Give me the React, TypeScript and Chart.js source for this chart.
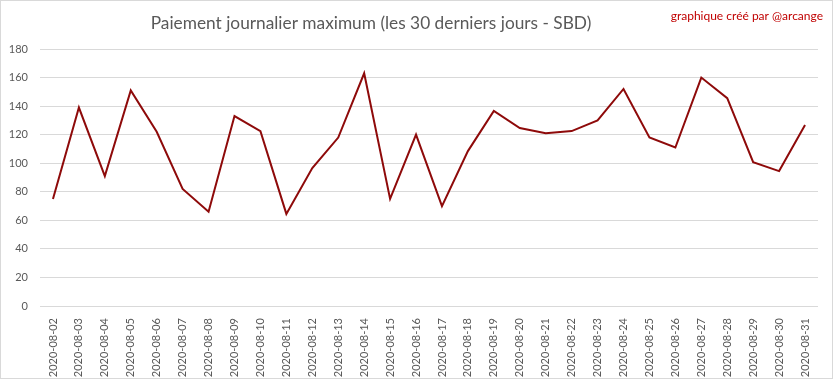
import React, { useEffect, useRef } from "react";
import { Chart, registerables } from "chart.js";

Chart.register(...registerables);

const categories = [
  "2020-08-02","2020-08-03","2020-08-04","2020-08-05","2020-08-06","2020-08-07","2020-08-08","2020-08-09","2020-08-10","2020-08-11",
  "2020-08-12","2020-08-13","2020-08-14","2020-08-15","2020-08-16","2020-08-17","2020-08-18","2020-08-19","2020-08-20","2020-08-21",
  "2020-08-22","2020-08-23","2020-08-24","2020-08-25","2020-08-26","2020-08-27","2020-08-28","2020-08-29","2020-08-30","2020-08-31",
];
const maxPayout = [
  75, 139, 91, 151, 122, 82, 66, 133, 122.5, 64.5,
  96.6, 118, 163, 75, 120, 70, 108.5, 136.6, 124.6, 121,
  122.5, 130, 152, 118, 111, 160, 145.6, 100.8, 94.5, 126.7,
];
const yTicks = [0, 20, 40, 60, 80, 100, 120, 140, 160, 180];
const titleText = "Paiement journalier maximum (les 30 derniers jours - SBD)";
const creditText = "graphique créé par @arcange";

const textPlugin = {
  id: "texts",
  afterDraw(chart: any) {
    const ctx = chart.ctx;
    ctx.save();
    ctx.fillStyle = "#595959";
    ctx.font = "17.3px Lato, 'Open Sans', sans-serif";
    ctx.textAlign = "center";
    ctx.textBaseline = "middle";
    ctx.fillText(titleText, 371, 23);
    ctx.fillStyle = "#c00000";
    ctx.font = "12px Lato, 'Open Sans', sans-serif";
    ctx.textAlign = "right";
    ctx.fillText(creditText, 823, 16);
    ctx.restore();
  },
};

export default function App() {
  const ref = useRef<HTMLCanvasElement>(null);
  useEffect(() => {
    document.body.style.margin = "0";
    const chart = new Chart(ref.current!, {
      type: "line",
      data: {
        labels: categories,
        datasets: [
          {
            data: maxPayout,
            borderColor: "#8e0a0a",
            borderWidth: 2,
            pointRadius: 0,
            tension: 0,
            fill: false,
          },
        ],
      },
      plugins: [textPlugin],
      options: {
        animation: false,
        responsive: false,
        layout: { padding: { left: 0, right: 15, top: 49, bottom: 0 } },
        plugins: { legend: { display: false }, tooltip: { enabled: false }, title: { display: false } },
        scales: {
          x: {
            offset: true,
            grid: { display: false },
            border: { display: false },
            ticks: {
              color: "#595959",
              font: { size: 11, family: "Lato, 'Open Sans', sans-serif" },
              maxRotation: 90,
              minRotation: 90,
              autoSkip: false,
              padding: 4,
            },
            afterFit(scale: any) {
              scale.height = 73;
            },
          },
          y: {
            min: 0,
            max: 180,
            afterBuildTicks(scale: any) {
              scale.ticks = yTicks.map((v) => ({ value: v }));
            },
            grid: { color: "#d9d9d9", drawTicks: false },
            border: { display: false },
            ticks: {
              color: "#595959",
              font: { size: 11, family: "Lato, 'Open Sans', sans-serif" },
              padding: 12,
            },
            afterFit(scale: any) {
              scale.width = 40;
            },
          },
        },
      },
    });
    return () => chart.destroy();
  }, []);
  return (
    <div style={{ position: "fixed", left: 0, top: 0, width: 833, height: 379 }}>
      <div style={{ position: "absolute", left: 0, top: 0, width: 831, height: 377, border: "1px solid #d9d9d9" }} />
      <canvas ref={ref} width={833} height={379} style={{ position: "absolute", left: 0, top: 0 }} />
    </div>
  );
}
